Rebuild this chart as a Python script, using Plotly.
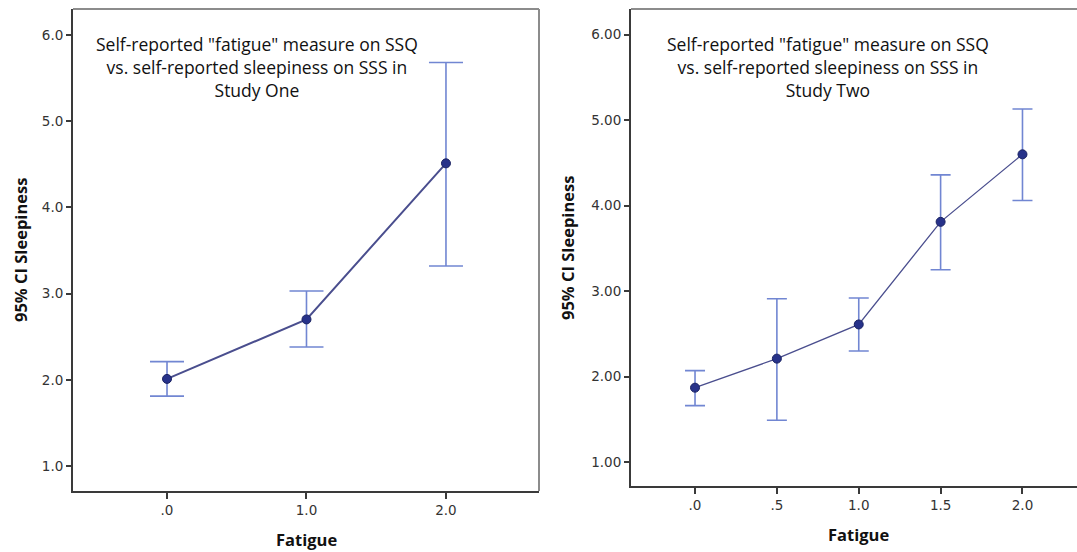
import plotly.graph_objects as go

# Study One: mean sleepiness (SSS) with 95% CI by SSQ fatigue score
study1_fatigue = [0.0, 1.0, 2.0]
study1_mean = [2.01, 2.70, 4.51]
study1_ci_low = [1.81, 2.38, 3.32]
study1_ci_high = [2.21, 3.03, 5.68]

# Study Two
study2_fatigue = [0.0, 0.5, 1.0, 1.5, 2.0]
study2_mean = [1.87, 2.21, 2.61, 3.81, 4.60]
study2_ci_low = [1.66, 1.49, 2.30, 3.25, 4.06]
study2_ci_high = [2.07, 2.91, 2.92, 4.36, 5.13]

# Tick values and labels
y_tickvals = [1, 2, 3, 4, 5, 6]
study1_y_ticktext = ["1.0", "2.0", "3.0", "4.0", "5.0", "6.0"]
study2_y_ticktext = ["1.00", "2.00", "3.00", "4.00", "5.00", "6.00"]
study1_x_tickvals = [0.0, 1.0, 2.0]
study1_x_ticktext = [".0", "1.0", "2.0"]
study2_x_tickvals = [0.0, 0.5, 1.0, 1.5, 2.0]
study2_x_ticktext = [".0", ".5", "1.0", "1.5", "2.0"]

titles = [
    'Self-reported "fatigue" measure on SSQ<br>vs. self-reported sleepiness on SSS in<br>Study One',
    'Self-reported "fatigue" measure on SSQ<br>vs. self-reported sleepiness on SSS in<br>Study Two',
]

W, H = 1077, 552
ERR_COLOR = "#7186d2"
LINE_COLOR = "#4a4e8e"
MARKER_COLOR = "#27328a"
AXIS_COLOR = "#3a3a3a"
FRAME_COLOR = "#8c8c8c"
TICK_FONT = dict(family="DejaVu Sans", size=13.5, color="#333333")
LABEL_FONT = dict(family="Open Sans", size=16.5, color="#111111", weight="bold")
TITLE_FONT = dict(family="Open Sans", size=17.5, color="#111111")


def px_x(p):
    return p / W


def px_y(p):
    return 1 - p / H


def ci_bars(mean, low, high):
    return dict(
        type="data",
        symmetric=False,
        array=[h - m for m, h in zip(mean, high)],
        arrayminus=[m - l for m, l in zip(mean, low)],
    )


fig = go.Figure()

err1 = ci_bars(study1_mean, study1_ci_low, study1_ci_high)
err1.update(color=ERR_COLOR, thickness=1.6, width=17)
fig.add_trace(go.Scatter(
    x=study1_fatigue, y=study1_mean, mode="lines+markers",
    line=dict(color=LINE_COLOR, width=2),
    marker=dict(color=MARKER_COLOR, size=9, line=dict(color="#1a2262", width=1)),
    error_y=err1, xaxis="x", yaxis="y", showlegend=False,
))

err2 = ci_bars(study2_mean, study2_ci_low, study2_ci_high)
err2.update(color=ERR_COLOR, thickness=1.6, width=10)
fig.add_trace(go.Scatter(
    x=study2_fatigue, y=study2_mean, mode="lines+markers",
    line=dict(color=LINE_COLOR, width=1.3),
    marker=dict(color=MARKER_COLOR, size=9, line=dict(color="#1a2262", width=1)),
    error_y=err2, xaxis="x2", yaxis="y2", showlegend=False,
))

axis_common = dict(
    showline=True, linecolor=AXIS_COLOR, linewidth=2, mirror=False,
    showgrid=False, zeroline=False, ticks="outside", tickcolor=AXIS_COLOR,
    tickfont=TICK_FONT, fixedrange=True,
)

fig.update_layout(
    width=W, height=H,
    margin=dict(l=0, r=0, t=0, b=0),
    paper_bgcolor="white", plot_bgcolor="white",
    xaxis=dict(**axis_common, domain=[px_x(73), px_x(539)], range=[-0.674, 2.667],
               tickvals=study1_x_tickvals, ticktext=study1_x_ticktext,
               ticklen=6, tickwidth=2, anchor="y"),
    yaxis=dict(**axis_common, domain=[px_y(491), px_y(9)], range=[0.71, 6.30],
               tickvals=y_tickvals, ticktext=study1_y_ticktext,
               ticklen=5, tickwidth=1.5, anchor="x"),
    xaxis2=dict(**axis_common, domain=[px_x(631), 1.0], range=[-0.391, 2.333],
                tickvals=study2_x_tickvals, ticktext=study2_x_ticktext,
                ticklen=6, tickwidth=2, anchor="y2"),
    yaxis2=dict(**axis_common, domain=[px_y(486), px_y(9)], range=[0.72, 6.30],
                tickvals=y_tickvals, ticktext=study2_y_ticktext,
                ticklen=5, tickwidth=1.5, anchor="x2"),
)

# Lighter top/right frame edges
frame = dict(type="line", line=dict(color=FRAME_COLOR, width=2), layer="below")
fig.add_shape(**frame, xref="x domain", yref="y domain", x0=0, x1=1, y0=1, y1=1)
fig.add_shape(**frame, xref="x domain", yref="y domain", x0=1, x1=1, y0=0, y1=1)
fig.add_shape(**frame, xref="x2 domain", yref="y2 domain", x0=0, x1=1, y0=1, y1=1)

# Chart titles inside the plot areas
for cx, text in zip([256.5, 827.5], titles):
    fig.add_annotation(
        x=px_x(cx), y=px_y(67), xref="paper", yref="paper",
        text=text, showarrow=False, align="center",
        xanchor="center", yanchor="middle", font=TITLE_FONT,
    )

# Axis titles
for cx, cy in [(20, 250), (567, 248)]:
    fig.add_annotation(
        x=px_x(cx), y=px_y(cy), xref="paper", yref="paper",
        text="95% CI Sleepiness", showarrow=False, textangle=-90,
        xanchor="center", yanchor="middle", font=LABEL_FONT,
    )
for cx, cy in [(306, 539), (858, 534)]:
    fig.add_annotation(
        x=px_x(cx), y=px_y(cy), xref="paper", yref="paper",
        text="Fatigue", showarrow=False,
        xanchor="center", yanchor="middle", font=LABEL_FONT,
    )

fig.write_html("out.html")
